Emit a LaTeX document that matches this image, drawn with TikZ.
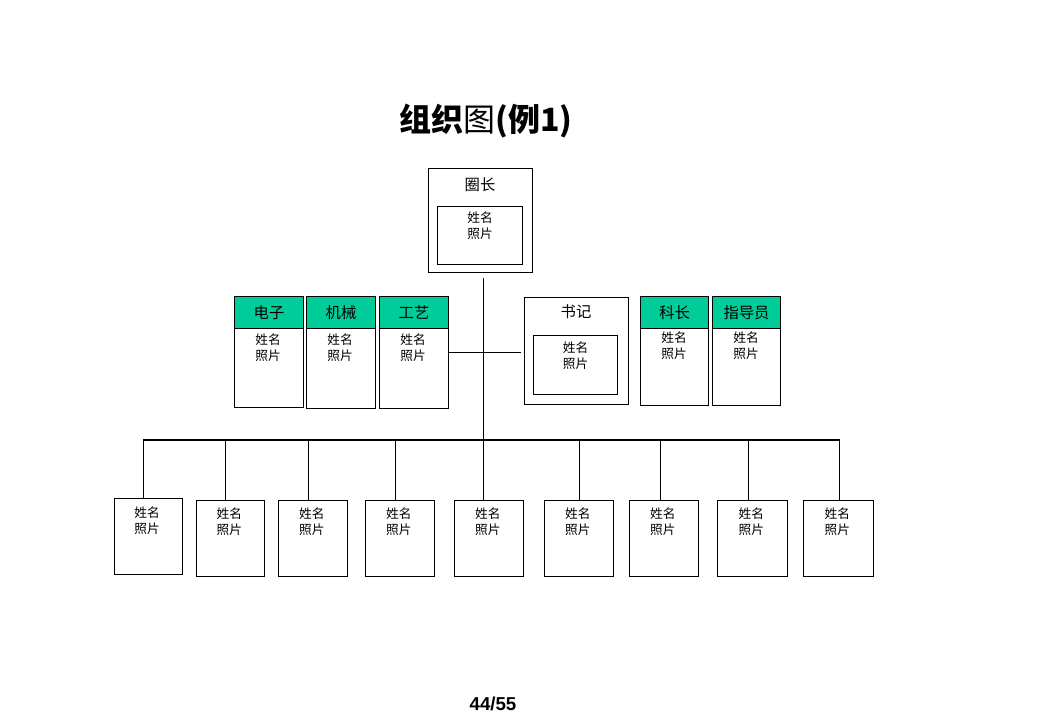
\documentclass[tikz,border=0pt]{standalone}
\usepackage{fontspec}
\setmainfont{Liberation Sans}
\newfontfamily\cjk{Noto Sans CJK SC}
\usetikzlibrary{calc}
\definecolor{hdrgreen}{RGB}{0,204,153}
\tikzset{
  ln/.style={line width=0.8pt, black},
  rbox/.style 2 args={draw, line width=0.8pt, fill=white, inner sep=0pt, anchor=north west,
    minimum width=#1*0.75pt, minimum height=#2*0.75pt},
  hdrbox/.style 2 args={rbox={#1}{#2}, fill=hdrgreen, font=\cjk\fontsize{11.5}{13}\selectfont},
  nm/.style={inner sep=0pt, align=center, font=\cjk\fontsize{9.5}{12}\selectfont},
  lbl/.style={inner sep=0pt, font=\cjk\fontsize{11.5}{13}\selectfont}
}
\begin{document}
\begin{tikzpicture}[x=0.75pt,y=-0.75pt]
\useasboundingbox (0,0) rectangle (1040,720);

% title and page number
\node[inner sep=0pt, font=\cjk\fontsize{24}{28}\selectfont] (title) at (486,121)
  {\bfseries 组织\mdseries 图\bfseries (例1)};
\node[inner sep=0pt, font=\bfseries\fontsize{14}{16}\selectfont] (page) at (493,704) {44/55};

% top box
\node[rbox={104}{104}] (top) at (428,168) {};
\node[lbl] (topl) at (480,185) {圈长};
\node[rbox={85}{58}] (topi) at (437,206) {};
\node[nm] (topt) at ($(topi.north)+(0,20)$) {姓名\\照片};

% secretary box
\node[rbox={104}{107}] (sj) at (524,297) {};
\node[lbl] (sjl) at (576,312) {书记};
\node[rbox={84}{59}] (sji) at (533,335) {};
\node[nm] (sjt) at ($(sji.north)+(0,21)$) {姓名\\照片};

% green header boxes
\node[hdrbox={69}{32}] (dzh) at (234,296) {电子};
\node[rbox={69}{79}] (dzb) at (234,328) {};
\node[hdrbox={69}{32}] (jxh) at (306,296) {机械};
\node[rbox={69}{80}] (jxb) at (306,328) {};
\node[hdrbox={69}{32}] (gyh) at (379,296) {工艺};
\node[rbox={69}{80}] (gyb) at (379,328) {};
\node[hdrbox={68}{32}] (kzh) at (640,296) {科长};
\node[rbox={68}{77}] (kzb) at (640,328) {};
\node[hdrbox={68}{32}] (zdh) at (712,296) {指导员};
\node[rbox={68}{77}] (zdb) at (712,328) {};
\foreach \b in {dzb,jxb,gyb}
  \node[nm] (\b t) at ($(\b.north)+(-1,19.5)$) {姓名\\照片};
\foreach \b in {kzb,zdb}
  \node[nm] (\b t) at ($(\b.north)+(-0.5,18)$) {姓名\\照片};

% bottom row
\node[rbox={68}{76}] (p1) at (114,498) {};
\node[rbox={68}{76}] (p2) at (196,500) {};
\node[rbox={69}{76}] (p3) at (278,500) {};
\node[rbox={69}{76}] (p4) at (365,500) {};
\node[rbox={69}{76}] (p5) at (454,500) {};
\node[rbox={69}{76}] (p6) at (544,500) {};
\node[rbox={69}{76}] (p7) at (629,500) {};
\node[rbox={70}{76}] (p8) at (717,500) {};
\node[rbox={70}{76}] (p9) at (803,500) {};
\node[nm] (p1t) at ($(p1.north)+(-1.5,22.5)$) {姓名\\照片};
\foreach \i in {2,...,9}
  \node[nm] (p\i t) at ($(p\i.north)+(-1.2,21.3)$) {姓名\\照片};

% connectors
\coordinate (vtop) at (483.3,278);
\coordinate (hR) at (521,352.3);
\coordinate (busL) at (143.3,440);
\coordinate (busR) at (840,440);
\coordinate (d2) at (225.3,440);
\coordinate (d3) at (308.3,440);
\coordinate (d4) at (395.3,440);
\coordinate (d6) at (579.3,440);
\coordinate (d7) at (660.3,440);
\coordinate (d8) at (748.3,440);
\coordinate (d9) at (839.3,440);

\draw[ln] (vtop) -- (vtop |- p5.north);
\draw[ln] (gyb.north east |- hR) -- (hR);
\draw[ln] (busL) -- (busR);
\draw[ln] (busL) -- (busL |- p1.north);
\foreach \i in {2,3,4,6,7,8,9}
  \draw[ln] (d\i) -- (d\i |- p\i.north);
\end{tikzpicture}
\end{document}
